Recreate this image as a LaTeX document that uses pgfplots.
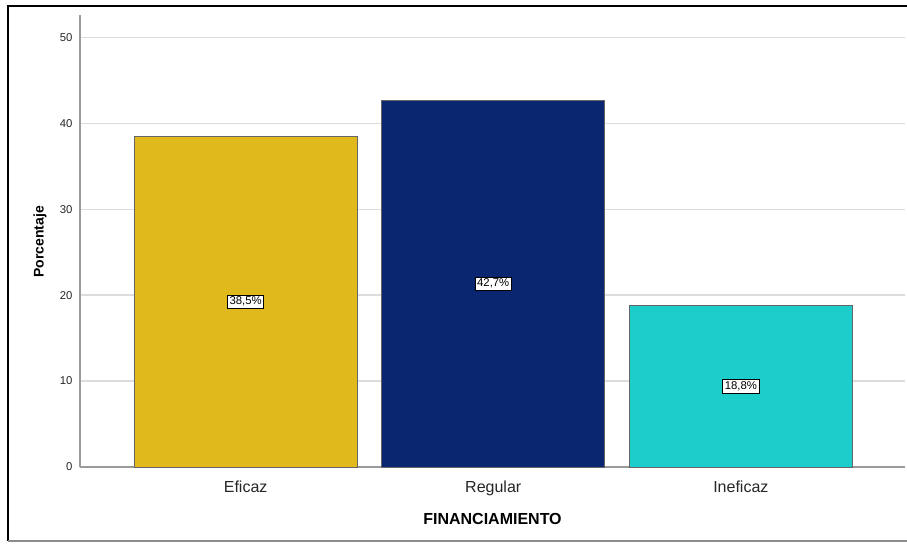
\documentclass[border=0pt]{standalone}
\usepackage{pgfplots}
\pgfplotsset{compat=1.18}
\usepackage{fontspec}
\setmainfont{Liberation Sans}
\definecolor{cEf}{HTML}{E0B91C}
\definecolor{cReg}{HTML}{0A2670}
\definecolor{cIn}{HTML}{1DCDCB}
\definecolor{gridc}{HTML}{DCDCDC}
\definecolor{axc}{HTML}{9A9A9A}
\begin{document}
\begin{tikzpicture}[x=0.75pt,y=0.75pt]
\useasboundingbox (-80,-76) rectangle (827,467);
\draw[black, line width=1.6pt] (-72,-74) -- (-72,461) -- (827,461);
\draw[black!45, line width=0.8pt] (-72,-74) -- (827,-74);
\begin{axis}[
  at={(0,0)}, anchor=south west,
  scale only axis,
  width=618.75pt, height=339pt,
  xmin=-0.669, xmax=2.663,
  ymin=0, ymax=52.6,
  axis x line=bottom, axis y line=left,
  axis line style={draw=axc, line width=0.8pt, -},
  xtick={0,1,2},
  xticklabels={Eficaz,Regular,Ineficaz},
  xtick style={draw=none},
  ytick={0,10,20,30,40,50},
  ytick style={draw=none},
  ymajorgrids,
  grid style={draw=gridc, line width=1pt},
  xticklabel style={font=\fontsize{12}{14}\selectfont, text=black!85, anchor=base, yshift=-17.25pt},
  yticklabel style={font=\fontsize{8.5}{10}\selectfont, text=black!85},
  /pgf/number format/assume math mode=true,
  xlabel={FINANCIAMIENTO},
  xlabel style={font=\bfseries\fontsize{12}{14}\selectfont, at={(rel axis cs:0.5,0)}, anchor=base, yshift=-43pt},
  clip=false,
]
\addplot[ybar, bar width=167.25pt, bar shift=0pt, fill=cEf, draw=black!60, line width=0.6pt] coordinates {(0,38.5)};
\addplot[ybar, bar width=167.25pt, bar shift=0pt, fill=cReg, draw=black!60, line width=0.6pt] coordinates {(1,42.7)};
\addplot[ybar, bar width=167.25pt, bar shift=0pt, fill=cIn, draw=black!60, line width=0.6pt] coordinates {(2,18.8)};
\addplot[draw=none, mark=none, point meta=explicit symbolic,
  nodes near coords,
  every node near coord/.style={anchor=center, draw=black, line width=0.5pt, fill=white, inner sep=1.5pt, text=black, font=\fontsize{8.5}{10}\selectfont}]
  coordinates {(0,19.25) [38,5\%] (1,21.35) [42,7\%] (2,9.4) [18,8\%]};
\end{axis}
\node[rotate=90, font=\bfseries\fontsize{10.5}{12}\selectfont] at (-40,225) {Porcentaje};
\end{tikzpicture}
\end{document}
